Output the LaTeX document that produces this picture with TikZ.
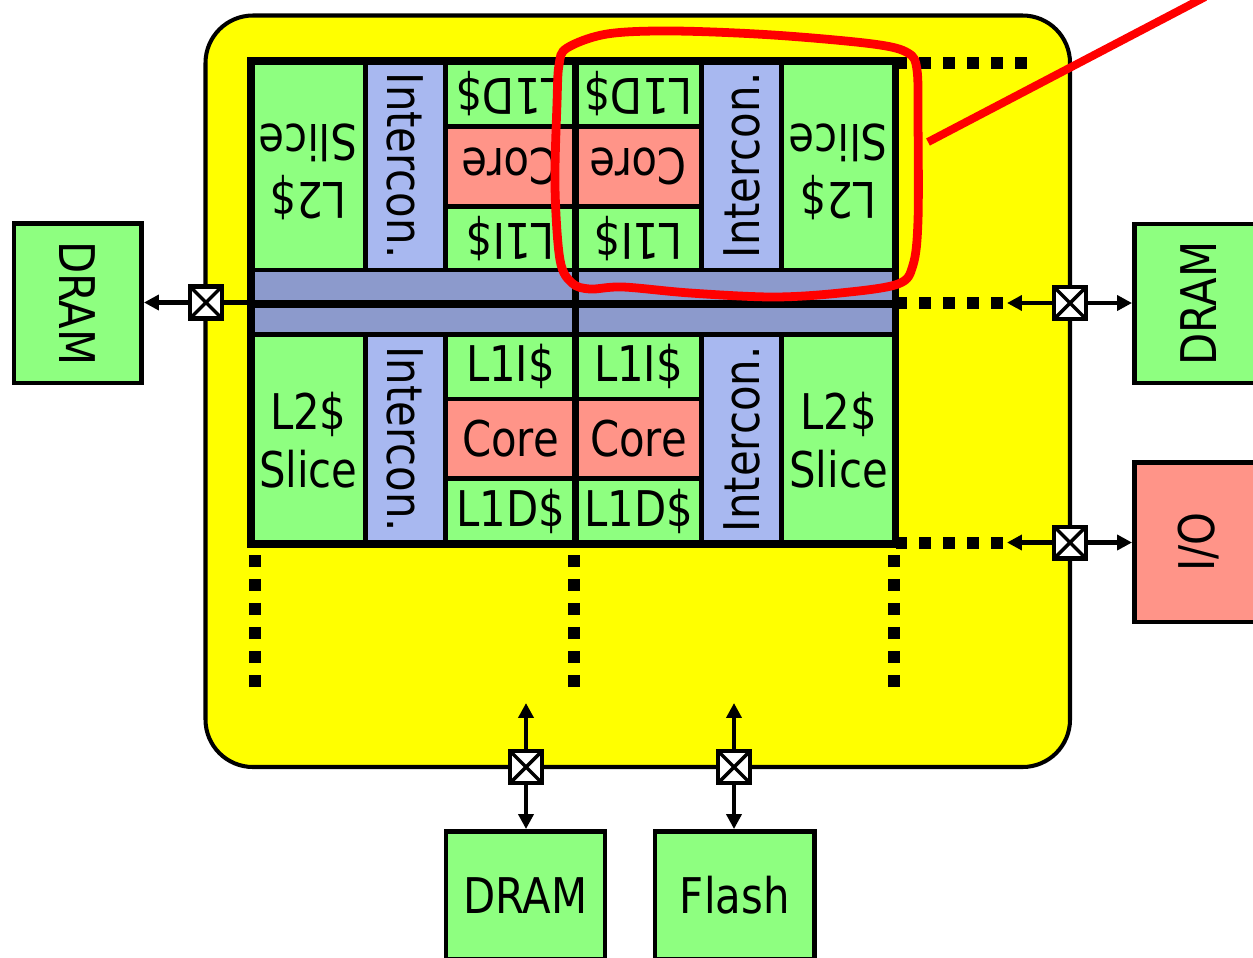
\documentclass[tikz,border=0pt]{standalone}
\usepackage{fontspec}
\setmainfont{DejaVu Sans}[FakeStretch=0.85]
\usetikzlibrary{arrows.meta,fit}

\definecolor{dieyellow}{RGB}{255,255,0}
\definecolor{cachegreen}{RGB}{142,255,128}
\definecolor{corepink}{RGB}{255,148,136}
\definecolor{netblue}{RGB}{168,184,240}
\definecolor{busblue}{RGB}{140,154,204}

\newcommand\flip[1]{\rotatebox[origin=c]{180}{#1}}
\newcommand\twolines[2]{\begin{tabular}{@{}c@{}}#1\\#2\end{tabular}}

\tikzset{
    x=0.02cm, y=-0.02cm,
    block/.style={draw, line width=2.8pt, inner sep=0pt},
    cache/.style={block, fill=cachegreen},
    core/.style={block, fill=corepink},
    net/.style={block, fill=netblue},
    bus/.style={block, fill=busblue},
    say/.style={label={[font=\fontsize{28}{33}\selectfont, inner sep=0pt]center:#1}},
    saylow/.style={label={[font=\fontsize{28}{33}\selectfont, inner sep=0pt, yshift=-4.5pt]center:#1}},
    dots/.style={line width=6.8pt, dash pattern=on 6.8pt off 6.85pt},
    wire/.style={line width=2.4pt},
    link/.style={wire, -{Triangle[length=8.5pt, width=8.5pt]}},
    xbar/.style={draw, fill=white, line width=2.3pt, inner sep=0pt, minimum size=18.2pt,
        path picture={\draw[line width=2pt]
            (path picture bounding box.north west) -- (path picture bounding box.south east)
            (path picture bounding box.north east) -- (path picture bounding box.south west);}},
    scribble/.style={draw=red, line width=5pt},
}

\begin{document}
\begin{tikzpicture}
    \useasboundingbox (0,0) rectangle (1253,957);
    \clip (0,0) rectangle (1253,957);
    \node[fit={(205.5,15.5) (1070,767)}, draw, fill=dieyellow, line width=2.3pt, rounded corners=27pt, inner sep=0pt] (die) {};

    % upper tiles (turned round)
    \node[cache, fit={(251,61) (365.5,270)}, say={\flip{\twolines{L2\$}{Slice}}}] (l2a) {};
    \node[net, fit={(365.5,61) (445.5,270)}, say={\rotatebox{-90}{Intercon.}}] (neta) {};
    \node[cache, fit={(445.5,61) (575.5,126.5)}, say={\flip{L1D\$}}] (l1da) {};
    \node[core, fit={(445.5,126.5) (575.5,206.5)}, say={\flip{Core}}] (corea) {};
    \node[cache, fit={(445.5,206.5) (575.5,270)}, say={\flip{L1I\$}}] (l1ia) {};
    \node[cache, fit={(575.5,61) (701.5,126.5)}, say={\flip{L1D\$}}] (l1db) {};
    \node[core, fit={(575.5,126.5) (701.5,206.5)}, say={\flip{Core}}] (coreb) {};
    \node[cache, fit={(575.5,206.5) (701.5,270)}, say={\flip{L1I\$}}] (l1ib) {};
    \node[net, fit={(701.5,61) (781.5,270)}, say={\rotatebox{90}{Intercon.}}] (netb) {};
    \node[cache, fit={(781.5,61) (895.5,270)}, say={\flip{\twolines{L2\$}{Slice}}}] (l2b) {};

    % buses
    \node[bus, fit={(251,270) (575.5,304)}] (busa) {};
    \node[bus, fit={(575.5,270) (895.5,304)}] (busb) {};
    \node[bus, fit={(251,304) (575.5,334.5)}] (busc) {};
    \node[bus, fit={(575.5,304) (895.5,334.5)}] (busd) {};

    % lower tiles
    \node[cache, fit={(251,334.5) (365.5,544)}, saylow={\twolines{L2\$}{Slice}}] (l2c) {};
    \node[net, fit={(365.5,334.5) (445.5,544)}, say={\rotatebox{-90}{Intercon.}}] (netc) {};
    \node[cache, fit={(445.5,334.5) (575.5,399)}, say={L1I\$}] (l1ic) {};
    \node[core, fit={(445.5,399) (575.5,478.5)}, say={Core}] (corec) {};
    \node[cache, fit={(445.5,478.5) (575.5,544)}, say={L1D\$}] (l1dc) {};
    \node[cache, fit={(575.5,334.5) (701.5,399)}, say={L1I\$}] (l1id) {};
    \node[core, fit={(575.5,399) (701.5,478.5)}, say={Core}] (cored) {};
    \node[cache, fit={(575.5,478.5) (701.5,544)}, say={L1D\$}] (l1dd) {};
    \node[net, fit={(701.5,334.5) (781.5,544)}, say={\rotatebox{90}{Intercon.}}] (netd) {};
    \node[cache, fit={(781.5,334.5) (895.5,544)}, saylow={\twolines{L2\$}{Slice}}] (l2d) {};

    \node[fit={(251,61) (895.5,544)}, draw, line width=4.5pt, inner sep=0pt] (chip) {};
    \draw[line width=4pt] (575.5,61) -- (575.5,544) (251,304) -- (895.5,304);

    % off-chip parts
    \node[cache, fit={(14,223.5) (141.5,383)}, say={\rotatebox{-90}{DRAM}}] (dram1) {};
    \node[cache, fit={(1134.5,224) (1262,383)}, say={\rotatebox{90}{DRAM}}] (dram2) {};
    \node[core, fit={(1134.5,462.5) (1262,622)}, say={\rotatebox{90}{I/O}}] (io) {};
    \node[cache, fit={(446,831.5) (605,959)}, say={DRAM}] (dram3) {};
    \node[cache, fit={(655,831.5) (814.5,959)}, say={Flash}] (flash) {};

    \draw[dots] (895.5,63) -- (1027,63);
    \draw[dots] (895.5,303) -- (1003,303);
    \draw[dots] (895.5,543) -- (1003,543);
    \foreach \x in {255,574,894}
        \draw[dots] (\x,555) -- (\x,687);

    \node[xbar] (swl) at (206,302.5) {};
    \node[xbar] (swr1) at (1070,303) {};
    \node[xbar] (swr2) at (1070,542.5) {};
    \node[xbar] (swb1) at (526,767) {};
    \node[xbar] (swb2) at (734,767) {};
    \coordinate (in1) at (1007,303);
    \coordinate (in2) at (1007,542.5);
    \coordinate (up1) at (526,703);
    \coordinate (up2) at (734,703);

    \draw[wire] (swl.east) -- (swl.east -| chip.west);
    \draw[link] (swl.west) -- (swl.west -| dram1.east);
    \draw[link] (swr1.east) -- (swr1.east -| dram2.west);
    \draw[link] (swr1.west) -- (in1);
    \draw[link] (swr2.east) -- (swr2.east -| io.west);
    \draw[link] (swr2.west) -- (in2);
    \draw[link] (swb1.north) -- (up1);
    \draw[link] (swb1.south) -- (swb1.south |- dram3.north);
    \draw[link] (swb2.north) -- (up2);
    \draw[link] (swb2.south) -- (swb2.south |- flash.north);

    % hand-drawn mark
    \draw[scribble] plot[smooth cycle, tension=0.55] coordinates {(567,48) (607,34) (673,31) (773,35) (873,44) (908,53) (917,70) (918,120) (918,220) (913,265) (898,284) (840,293) (773,297) (690,293) (623,287) (590,289) (572,283) (560,260) (555,187) (557,103) (559,65)};
    \draw[scribble, line width=4.6pt] (928,142) -- (1205,-3);
\end{tikzpicture}
\end{document}
